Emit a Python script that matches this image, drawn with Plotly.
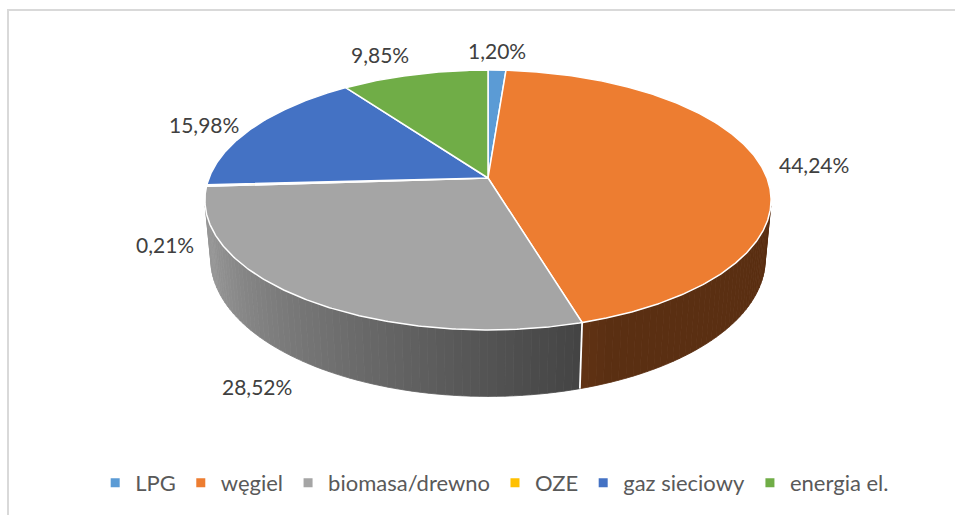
import math
import plotly.graph_objects as go

# ---- data ----
categories = ["LPG", "węgiel", "biomasa/drewno", "OZE", "gaz sieciowy", "energia el."]
shares = [1.20, 44.24, 28.52, 0.21, 15.98, 9.85]
label_texts = ["1,20%", "44,24%", "28,52%", "0,21%", "15,98%", "9,85%"]
colors = ["#5B9BD5", "#ED7D31", "#A5A5A5", "#FFC000", "#4472C4", "#70AD47"]

# ---- view (pixel space, 3D perspective pie) ----
W, H = 955, 515
CX, CY = 488, 178
SCALE = 279
ELEV = math.radians(26.9)
DIST = 5.27
THICK = 0.24
FONT = "Lato, 'Open Sans', sans-serif"


def project(theta_deg, r=1.0, y=0.0):
    t = math.radians(theta_deg)
    X = r * math.sin(t)
    Z = -r * math.cos(t)
    s, c = math.sin(ELEV), math.cos(ELEV)
    depth = DIST - (y * s + Z * c)
    k = SCALE * DIST / depth
    return CX + X * k, CY - (y * c - Z * s) * k


def hex_rgb(h):
    h = h.lstrip("#")
    return tuple(int(h[i:i + 2], 16) for i in (0, 2, 4))


def shade(col, f):
    r, g, b = hex_rgb(col)
    return "rgb(%d,%d,%d)" % (r * f, g * f, b * f)


def shade_factor(theta):
    f = 0.42 + (0.92 - 0.42) * (theta - 165) / (250 - 165)
    return max(0.38, min(0.92, f))


total = sum(shares)
starts, ends = [], []
acc = 0.0
for v in shares:
    starts.append(acc / total * 360)
    acc += v
    ends.append(acc / total * 360)

fig = go.Figure()

# visible part of the outer wall
tmin = math.degrees(math.acos(-1 / (DIST * math.cos(ELEV))))
tmax = 360 - tmin

for a0, a1, col in zip(starts, ends, colors):
    lo, hi = max(a0, tmin), min(a1, tmax)
    if lo >= hi:
        continue
    n = max(1, math.ceil((hi - lo) / 1.5))
    for j in range(n):
        t0 = lo + (hi - lo) * j / n
        t1 = lo + (hi - lo) * (j + 1) / n
        pts = [project(t0), project(t1), project(t1, y=-THICK), project(t0, y=-THICK), project(t0)]
        c = shade(col, shade_factor((t0 + t1) / 2))
        fig.add_trace(go.Scatter(
            x=[p[0] for p in pts], y=[p[1] for p in pts], mode="lines",
            fill="toself", fillcolor=c, line=dict(color=c, width=0.8),
            hoverinfo="skip", showlegend=False))

# white edges on the wall at slice boundaries
for a in starts:
    if tmin < a < tmax:
        p0, p1 = project(a), project(a, y=-THICK)
        fig.add_trace(go.Scatter(x=[p0[0], p1[0]], y=[p0[1], p1[1]], mode="lines",
                                 line=dict(color="white", width=1.8),
                                 hoverinfo="skip", showlegend=False))

# top faces
for a0, a1, col in zip(starts, ends, colors):
    n = max(2, math.ceil((a1 - a0) / 0.5))
    pts = [(CX, CY)] + [project(a0 + (a1 - a0) * j / n) for j in range(n + 1)] + [(CX, CY)]
    fig.add_trace(go.Scatter(
        x=[p[0] for p in pts], y=[p[1] for p in pts], mode="lines",
        fill="toself", fillcolor=col, line=dict(color="white", width=1.5),
        hoverinfo="skip", showlegend=False))

# data labels
annotations = []
for a0, a1, txt in zip(starts, ends, label_texts):
    m = (a0 + a1) / 2
    sn, cs = math.sin(math.radians(m)), math.cos(math.radians(m))
    yy = -THICK if cs < 0 else 0.0
    px, py = project(m, r=1.06, y=yy)
    xa = "left" if sn > 0.25 else ("right" if sn < -0.25 else "center")
    ya = "bottom" if cs > 0.5 else ("top" if cs < -0.5 else "middle")
    annotations.append(dict(x=px, y=py, xref="x", yref="y", text=txt, showarrow=False,
                            xanchor=xa, yanchor=ya,
                            font=dict(family=FONT, size=21, color="#404040")))

# legend entries
for cat, col in zip(categories, colors):
    fig.add_trace(go.Scatter(x=[None], y=[None], mode="markers", name=cat,
                             marker=dict(symbol="square", size=9, color=col),
                             showlegend=True))

fig.update_layout(
    width=W, height=H,
    margin=dict(l=0, r=0, t=0, b=0),
    paper_bgcolor="white", plot_bgcolor="white",
    xaxis=dict(range=[0, W], visible=False, fixedrange=True),
    yaxis=dict(range=[H, 0], visible=False, fixedrange=True),
    annotations=annotations,
    shapes=[dict(type="path", xref="x", yref="y", path="M 970,10 L 8,10 L 8,530",
                 line=dict(color="#D9D9D9", width=2), layer="below")],
    legend=dict(orientation="h", x=0.518, xanchor="center", y=1 - 483 / H, yanchor="middle",
                font=dict(family=FONT, size=22, color="#595959"), itemwidth=30,
                bgcolor="rgba(0,0,0,0)"),
    showlegend=True,
)

fig.write_html("out.html", config={"displayModeBar": False},
               post_script="document.body.style.margin='0';document.body.style.overflow='hidden';")
